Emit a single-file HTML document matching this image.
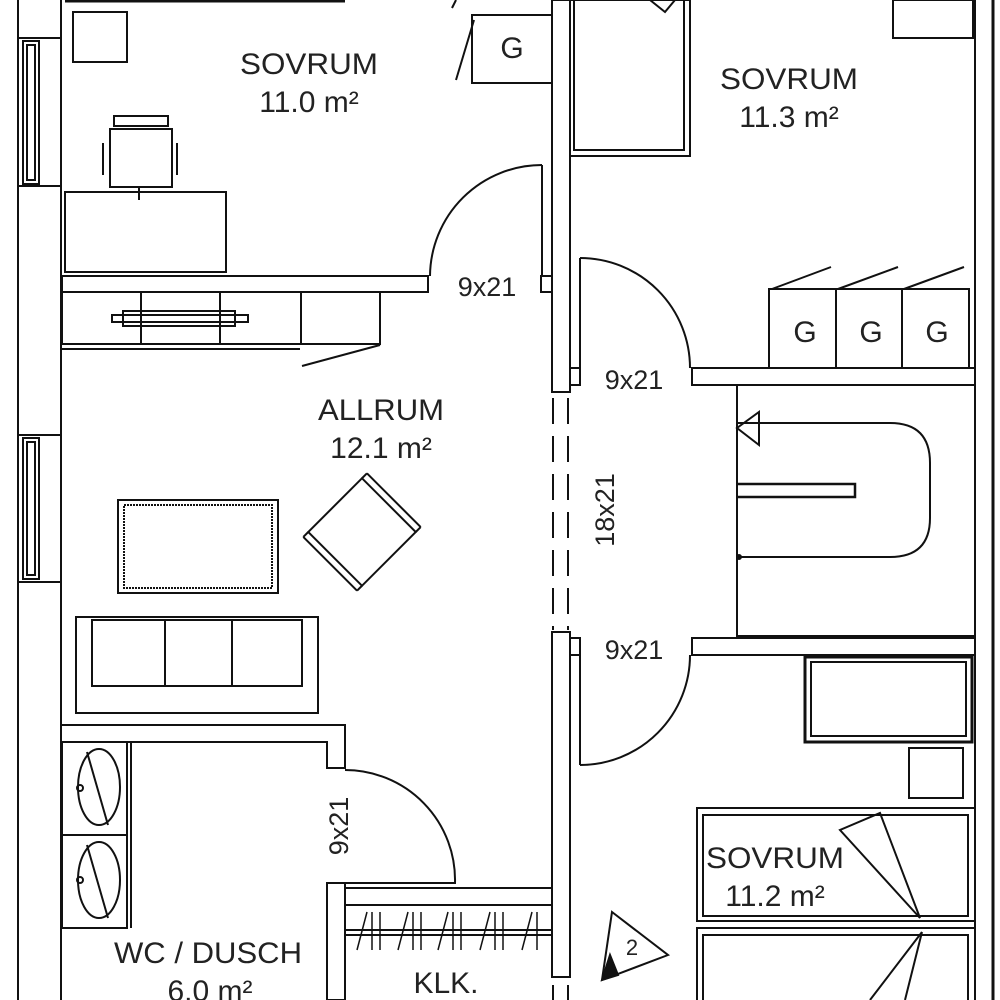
<!DOCTYPE html>
<html><head><meta charset="utf-8"><style>
html,body{margin:0;padding:0;background:#fff}
svg{display:block}
text{font-family:"Liberation Sans",sans-serif;fill:#222}
</style></head><body>
<svg width="1000" height="1000" viewBox="0 0 1000 1000" xmlns="http://www.w3.org/2000/svg">
<g fill="none" stroke="#111" stroke-width="2">
<line x1="18" y1="0" x2="18" y2="1000"/>
<line x1="61" y1="0" x2="61" y2="1000"/>
<line x1="18" y1="38" x2="61" y2="38"/><line x1="18" y1="186" x2="61" y2="186"/>
<rect x="23" y="41" width="16" height="143"/><rect x="27" y="45" width="8" height="135"/>
<line x1="18" y1="435" x2="61" y2="435"/><line x1="18" y1="582" x2="61" y2="582"/>
<rect x="23" y="438" width="16" height="141"/><rect x="27" y="442" width="8" height="133"/>
<line x1="65" y1="1" x2="345" y2="1" stroke-width="3"/>
<rect x="73" y="12" width="54" height="50"/>
<rect x="110" y="129" width="62" height="58"/>
<rect x="114" y="116" width="54" height="10"/>
<line x1="103" y1="143" x2="103" y2="175"/><line x1="177" y1="143" x2="177" y2="175"/>
<line x1="139" y1="187" x2="139" y2="200"/>
<rect x="65" y="192" width="161" height="80"/>
<rect x="62" y="276" width="366" height="16"/>
<rect x="62" y="292" width="318" height="52"/>
<line x1="141" y1="292" x2="141" y2="344"/><line x1="220" y1="292" x2="220" y2="344"/><line x1="301" y1="292" x2="301" y2="344"/>
<rect x="112" y="315" width="136" height="7"/><rect x="123" y="311" width="112" height="15"/>
<line x1="62" y1="349" x2="300" y2="349"/>
<line x1="302" y1="366" x2="380" y2="345"/>
<line x1="542" y1="165" x2="542" y2="276"/>
<path d="M430,276 A112,112 0 0 1 542,165"/>
<rect x="541" y="276" width="11" height="16"/>
<rect x="472" y="15" width="80" height="68"/>
<line x1="456" y1="80" x2="474" y2="20"/><line x1="452" y1="8" x2="456" y2="0"/>
<rect x="552" y="0" width="18" height="392"/>
<rect x="552" y="632" width="18" height="345"/>
<g stroke-dasharray="26,12"><line x1="553" y1="398" x2="553" y2="630"/><line x1="568" y1="398" x2="568" y2="630"/></g>
<line x1="553" y1="985" x2="553" y2="1000"/><line x1="568" y1="985" x2="568" y2="1000"/>
<rect x="570" y="0" width="120" height="156"/><rect x="574" y="0" width="110" height="150"/>
<path d="M650,0 L665,12 L675,0"/>
<rect x="893" y="0" width="80" height="38"/>
<line x1="975" y1="0" x2="975" y2="1000"/>
<line x1="993" y1="0" x2="993" y2="1000" stroke-width="3"/>
<rect x="769" y="289" width="200" height="79"/>
<line x1="836" y1="289" x2="836" y2="368"/><line x1="902" y1="289" x2="902" y2="368"/>
<line x1="772" y1="289" x2="831" y2="267"/><line x1="838" y1="289" x2="898" y2="267"/><line x1="904" y1="289" x2="964" y2="267"/>
<rect x="692" y="368" width="283" height="17"/>
<line x1="580" y1="258" x2="580" y2="368"/>
<path d="M580,258 A110,110 0 0 1 690,368"/>
<rect x="570" y="368" width="10" height="17"/>
<rect x="737" y="385" width="238" height="251"/>
<path d="M737,423 L890,423 Q930,423 930,463 L930,518 Q930,557 890,557 L737,557"/>
<circle cx="739" cy="557" r="2" fill="#111"/>
<path d="M737,484 L855,484 L855,497 L737,497" stroke-width="2.5"/>
<path d="M759,412 L759,445 L737,428 Z"/>
<rect x="692" y="638" width="283" height="17"/>
<line x1="580" y1="640" x2="580" y2="765"/>
<path d="M580,765 A110,110 0 0 0 690,655"/>
<rect x="570" y="638" width="10" height="17"/>
<rect x="805" y="657" width="167" height="85" stroke-width="3"/><rect x="811" y="662" width="155" height="74"/>
<rect x="909" y="748" width="54" height="50"/>
<rect x="697" y="808" width="278" height="113"/><rect x="703" y="815" width="265" height="101"/>
<rect x="697" y="928" width="278" height="80"/><rect x="703" y="935" width="265" height="80"/>
<path d="M920,918 L840,830 L880,813 Z"/>
<path d="M922,932 L870,1000 M922,932 L905,1000"/>
<rect x="118" y="500" width="160" height="93"/>
<rect x="124" y="505" width="148" height="83" stroke-dasharray="2,1"/>
<g transform="translate(362,532) rotate(45)">
<rect x="-38" y="-38" width="76" height="76"/>
<line x1="-38" y1="-45" x2="38" y2="-45"/><line x1="-38" y1="45" x2="38" y2="45"/>
<line x1="-38" y1="-45" x2="-38" y2="-38"/><line x1="38" y1="-45" x2="38" y2="-38"/>
<line x1="-38" y1="45" x2="-38" y2="38"/><line x1="38" y1="45" x2="38" y2="38"/>
</g>
<rect x="76" y="617" width="242" height="96"/>
<rect x="92" y="620" width="210" height="66"/>
<line x1="165" y1="620" x2="165" y2="686"/><line x1="232" y1="620" x2="232" y2="686"/>
<path d="M62,725 L345,725 L345,768 L327,768 L327,742 L62,742"/>
<rect x="62" y="742" width="65" height="186"/>
<line x1="62" y1="835" x2="127" y2="835"/><line x1="127" y1="742" x2="127" y2="928"/><line x1="131" y1="742" x2="131" y2="928"/>
<ellipse cx="99" cy="787" rx="21" ry="38"/><ellipse cx="99" cy="880" rx="21" ry="38"/>
<line x1="87" y1="752" x2="108" y2="825"/><line x1="87" y1="845" x2="108" y2="918"/>
<circle cx="80" cy="788" r="3"/><circle cx="80" cy="880" r="3"/>
<path d="M345,770 A110,110 0 0 1 455,883 L345,883"/>
<rect x="327" y="883" width="18" height="117"/>
<rect x="345" y="888" width="207" height="17"/>
<line x1="345" y1="930" x2="552" y2="930"/><line x1="345" y1="935" x2="552" y2="935"/>
<g stroke-width="1.5">
<line x1="367" y1="912" x2="357" y2="950"/><line x1="372" y1="912" x2="372" y2="950"/><line x1="380" y1="912" x2="380" y2="950"/>
<line x1="408" y1="912" x2="398" y2="950"/><line x1="413" y1="912" x2="413" y2="950"/><line x1="421" y1="912" x2="421" y2="950"/>
<line x1="448" y1="912" x2="438" y2="950"/><line x1="453" y1="912" x2="453" y2="950"/><line x1="461" y1="912" x2="461" y2="950"/>
<line x1="490" y1="912" x2="480" y2="950"/><line x1="495" y1="912" x2="495" y2="950"/><line x1="503" y1="912" x2="503" y2="950"/>
<line x1="532" y1="912" x2="522" y2="950"/><line x1="537" y1="912" x2="537" y2="950"/>
</g>
<path d="M612,912 L668,955 L602,980 Z"/>
<path d="M602,980 L610,955 L618,975 Z" fill="#111"/>
</g>
<g font-size="30" text-anchor="middle">
<text x="309" y="74" textLength="138" lengthAdjust="spacingAndGlyphs">SOVRUM</text><text x="309" y="112">11.0 m²</text>
<text x="789" y="89" textLength="138" lengthAdjust="spacingAndGlyphs">SOVRUM</text><text x="789" y="127">11.3 m²</text>
<text x="381" y="420" textLength="126" lengthAdjust="spacingAndGlyphs">ALLRUM</text><text x="381" y="458">12.1 m²</text>
<text x="775" y="868" textLength="138" lengthAdjust="spacingAndGlyphs">SOVRUM</text><text x="775" y="906">11.2 m²</text>
<text x="208" y="963" textLength="188" lengthAdjust="spacingAndGlyphs">WC / DUSCH</text><text x="210" y="1001">6.0 m²</text>
<text x="446" y="993">KLK.</text>
<text x="805" y="342">G</text><text x="871" y="342">G</text><text x="937" y="342">G</text>
<text x="512" y="58">G</text>
</g>
<g font-size="27" text-anchor="middle">
<text x="487" y="296">9x21</text>
<text x="634" y="389">9x21</text>
<text x="634" y="659">9x21</text>
<text transform="translate(614,510) rotate(-90)">18x21</text>
<text transform="translate(348,826) rotate(-90)">9x21</text>
<text x="632" y="955" font-size="22">2</text>
</g>
</svg>
</body></html>
